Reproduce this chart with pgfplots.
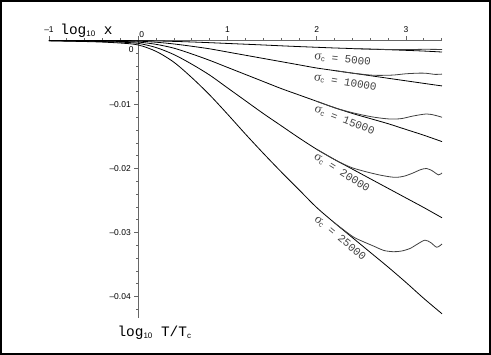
\documentclass[border=0pt]{standalone}
\usepackage{pgfplots}
\pgfplotsset{compat=1.18}
\usepackage{fontspec}
\setmainfont{Liberation Sans}
\newfontfamily\mono{Liberation Mono}
\newfontfamily\serif{Liberation Serif}

% straight curves
\pgfplotstableread{
x       s5        s10       s15       s20       s25
-1      0         -0.00001  -0.00002  -0.00003  -0.00005
-0.5    -0.00001  -0.00003  -0.00007  -0.00013  -0.0002
-0.2    -0.00002  -0.00006  -0.00015  -0.00026  -0.0004
0       -0.00003  -0.0001   -0.00025  -0.00045  -0.0007
0.2     -0.00007  -0.00027  -0.0006   -0.0011   -0.0017
0.4     -0.00014  -0.00054  -0.0012   -0.0022   -0.0034
0.6     -0.00023  -0.0009   -0.0021   -0.0037   -0.0058
0.8     -0.00034  -0.0013   -0.0031   -0.0054   -0.0085
1.0     -0.00046  -0.0018   -0.0042   -0.0074   -0.0115
1.2     -0.00058  -0.0023   -0.0053   -0.0094   -0.0146
1.4     -0.0007   -0.0028   -0.0064   -0.0114   -0.0176
1.6     -0.00083  -0.0033   -0.0075   -0.0133   -0.0205
1.8     -0.00095  -0.0038   -0.0085   -0.0152   -0.0233
2.0     -0.00106  -0.0043   -0.0095   -0.0170   -0.0261
2.2     -0.00117  -0.0047   -0.0105   -0.0186   -0.0285
2.4     -0.00126  -0.0051   -0.0114   -0.0201   -0.0308
2.6     -0.00135  -0.0055   -0.0122   -0.0216   -0.0331
2.8     -0.00144  -0.0059   -0.0130   -0.0231   -0.0354
3.0     -0.00154  -0.0063   -0.0139   -0.0246   -0.0378
3.2     -0.00165  -0.0067   -0.0148   -0.0261   -0.0403
3.404   -0.0018   -0.0071   -0.0158   -0.0277   -0.0427
}\straight

\begin{document}
\begin{tikzpicture}
\begin{axis}[
    scale only axis,
    width=393bp, height=277.5bp,
    xmin=-1, xmax=3.404, ymin=-0.04336, ymax=0,
    axis x line=top, axis y line=middle,
    axis line style={-, black!60, line width=0.9bp},
    tick style={black!60, line width=0.7bp},
    tick align=outside,
    major tick length=4bp, minor tick length=2bp,
    scaled y ticks=false, scaled x ticks=false,
    xtick={-1,0,1,2,3}, xticklabels={–1,,1,2,3},
    minor xtick={-0.8,-0.6,-0.4,-0.2,0.2,0.4,0.6,0.8,1.2,1.4,1.6,1.8,2.2,2.4,2.6,2.8,3.2,3.4},
    ytick={-0.04,-0.03,-0.02,-0.01,0}, yticklabels={–0.04,–0.03,–0.02,–0.01,},
    minor ytick={-0.042,-0.038,-0.036,-0.034,-0.032,-0.028,-0.026,-0.024,-0.022,-0.018,-0.016,-0.014,-0.012,-0.008,-0.006,-0.004,-0.002},
    tick label style={font=\fontsize{8.5}{10}\selectfont, black},
    clip=false,
]
\addplot[black, line width=0.8bp, smooth] table[x=x, y=s5] {\straight};
\addplot[black, line width=0.8bp, smooth] table[x=x, y=s10] {\straight};
\addplot[black, line width=0.8bp, smooth] table[x=x, y=s15] {\straight};
\addplot[black, line width=0.8bp, smooth] table[x=x, y=s20] {\straight};
\addplot[black, line width=0.8bp, smooth] table[x=x, y=s25] {\straight};

% curves that level off
\addplot[black!75, line width=0.8bp, smooth] coordinates {(2.4,-0.00126) (2.6,-0.00135) (2.8,-0.0014) (3.0,-0.00142) (3.2,-0.00138) (3.404,-0.0014)};
\addplot[black!75, line width=0.8bp, smooth] coordinates {(2.2,-0.0047) (2.4,-0.0051) (2.6,-0.0054) (2.7,-0.00545) (2.857,-0.0054) (3.0,-0.0052) (3.15,-0.0051) (3.23,-0.00513) (3.33,-0.0053) (3.404,-0.00525)};
\addplot[black!75, line width=0.8bp, smooth] coordinates {(2.0,-0.0095) (2.2,-0.0105) (2.35,-0.0111) (2.5,-0.0116) (2.65,-0.0120) (2.82,-0.01227) (2.95,-0.0122) (3.08,-0.0118) (3.232,-0.01148) (3.33,-0.0117) (3.404,-0.0120)};
\addplot[black!75, line width=0.8bp, smooth] coordinates {(2.0,-0.0170) (2.2,-0.0186) (2.3,-0.0193) (2.4,-0.0199) (2.55,-0.0205) (2.7,-0.0210) (2.82,-0.0213) (2.895,-0.02138) (2.98,-0.0212) (3.08,-0.0207) (3.16,-0.0202) (3.232,-0.0200) (3.3,-0.0204) (3.363,-0.0210) (3.404,-0.0207)};
\addplot[black!75, line width=0.8bp, smooth] coordinates {(2.2,-0.0285) (2.4,-0.0306) (2.5,-0.0313) (2.65,-0.0322) (2.75,-0.0328) (2.857,-0.0330) (2.95,-0.0329) (3.045,-0.0325) (3.13,-0.0318) (3.213,-0.0312) (3.28,-0.0316) (3.345,-0.0323) (3.404,-0.0318)};

\newcommand{\sig}[1]{{\serif\fontsize{13}{13}\selectfont σ}\raisebox{-1.5pt}{\fontsize{7.5}{7.5}\selectfont c}{\mono\fontsize{11}{11}\selectfont{} = #1}}
\node[black!75, rotate=-6, inner sep=0pt]  at (axis cs:2.29,-0.0030) {\sig{5000}};
\node[black!75, rotate=-10, inner sep=0pt] at (axis cs:2.32,-0.0066) {\sig{10000}};
\node[black!75, rotate=-21, inner sep=0pt] at (axis cs:2.31,-0.0125) {\sig{15000}};
\node[black!75, rotate=-32, inner sep=0pt] at (axis cs:2.28,-0.0207) {\sig{20000}};
\node[black!75, rotate=-40, inner sep=0pt] at (axis cs:2.26,-0.0309) {\sig{25000}};

\node[anchor=south west, font=\fontsize{8.5}{10}\selectfont, inner sep=1pt] at (axis cs:0,0.0003) {0};
\node[anchor=north east, font=\fontsize{8.5}{10}\selectfont, inner sep=1pt] at (axis cs:-0.04,-0.0007) {0};

\node[anchor=base, inner sep=0pt] at (axis cs:-0.58,0.0009) {\mono\fontsize{14.5}{15}\selectfont log\raisebox{-2pt}{\rmfamily\fontsize{8}{8}\selectfont 10} x};
\node[anchor=base, inner sep=0pt] at (axis cs:0.18,-0.0462) {\mono\fontsize{14.5}{15}\selectfont log\raisebox{-2pt}{\rmfamily\fontsize{8}{8}\selectfont 10} T/T\raisebox{-2pt}{\rmfamily\fontsize{8}{8}\selectfont c}};

\draw[line width=2bp] ([shift={(-48bp,-36bp)}]rel axis cs:0,0) rectangle ([shift={(48bp,39.5bp)}]rel axis cs:1,1);
\end{axis}
\end{tikzpicture}
\end{document}
